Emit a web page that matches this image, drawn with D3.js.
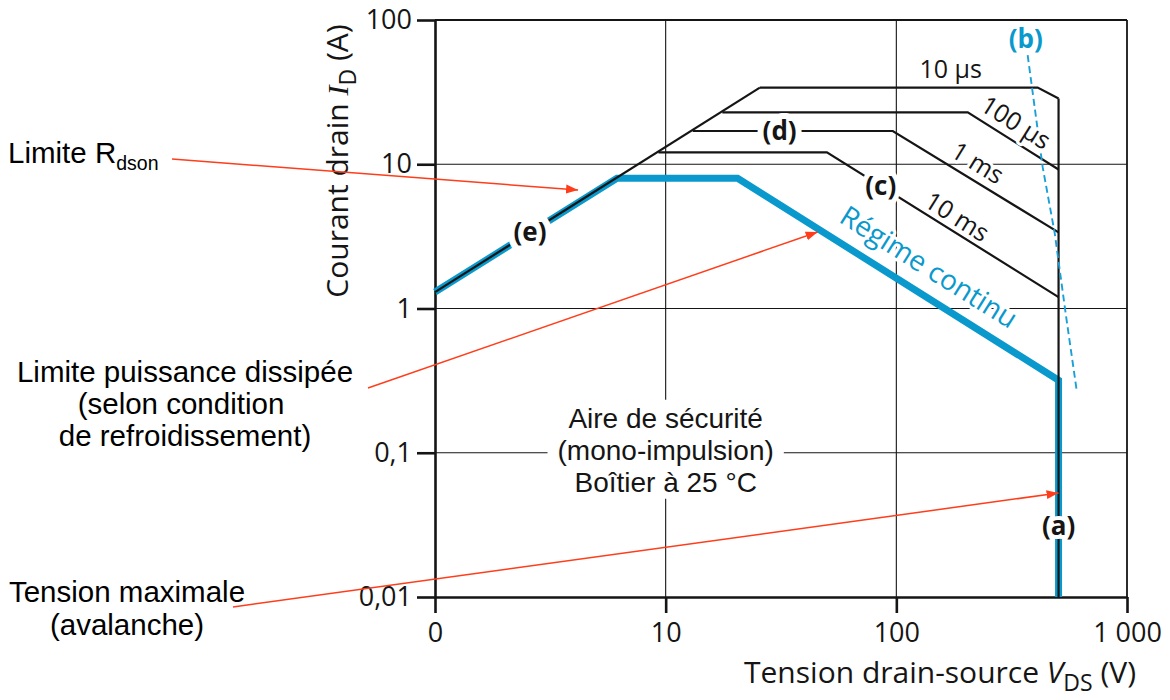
<!DOCTYPE html>
<html><head><meta charset="utf-8">
<script src="https://cdn.jsdelivr.net/npm/d3@7"></script>
<style>
body{margin:0;background:#fff;}
svg{display:block;font-family:"Open Sans",sans-serif;}
</style></head><body>
<svg id="c" width="1170" height="700"></svg>
<script>
// ---------- data (V in volts, I in amperes) ----------
const xTicks=[1,10,100,1000];
const xTickLabels=["0","10","100","1 000"];
const yTicks=[0.01,0.1,1,10,100];
const yTickLabels=["0,01","0,1","1","10","100"];

const rdsonV=[1,25.6],            rdsonI=[1.3,34];          // (e) limite Rdson
const dcV=[1,6.15,20.5,505,505],  dcI=[1.3,8,8,0.318,0.01]; // régime continu
const us10V=[25.6,410,505],       us10I=[34,34,28.6];
const us100V=[17.6,204,505],      us100I=[22.9,22.9,9.2];
const ms1V=[13.1,96.5,505],       ms1I=[17,17,3.37];
const ms10V=[9.3,50,505],         ms10I=[12.1,12.1,1.2];
const avalV=[505,505],            avalI=[28.6,0.01];        // (a) avalanche
const bV=[371,431,486,542,605],   bI=[57,9.55,3.33,0.927,0.271]; // (b)

const arrowTipV=[4.17,45.6,505], arrowTipI=[6.63,3.39,0.0526];

// ---------- setup ----------
const svg=d3.select("#c");
const x=d3.scaleLog().domain([1,1000]).range([435,1127]);
const y=d3.scaleLog().domain([0.01,100]).range([597,20]);
const BLUE="#0a99cc", DASH="#1aa0d6", RED="#ff3d1a", INK="#151515";
const line=d3.line().x(d=>x(d[0])).y(d=>y(d[1]));

// ---------- grid ----------
const grid=svg.append("g");
grid.selectAll("line.gv").data(xTicks.slice(1)).join("line").attr("class","gv")
  .attr("x1",d=>x(d)).attr("x2",d=>x(d)).attr("y1",y(0.01)).attr("y2",y(100))
  .attr("stroke",INK).attr("stroke-width",d=>d===1000?1.8:1.1);
grid.selectAll("line.gh").data(yTicks.slice(1)).join("line").attr("class","gh")
  .attr("y1",d=>y(d)).attr("y2",d=>y(d)).attr("x1",x(1)).attr("x2",x(1000))
  .attr("stroke",INK).attr("stroke-width",d=>d===100?2.2:1.1);

// ---------- axes ----------
const ax=svg.append("g").attr("transform",`translate(0,${y(0.01)})`)
  .call(d3.axisBottom(x).tickValues(xTicks).tickFormat((d,i)=>xTickLabels[i]).tickSize(16).tickPadding(10).tickSizeOuter(0));
const ay=svg.append("g").attr("transform",`translate(${x(1)},0)`)
  .call(d3.axisLeft(y).tickValues(yTicks).tickFormat((d,i)=>yTickLabels[i]).tickSize(18).tickPadding(5).tickSizeOuter(0));
[ax,ay].forEach(g=>{
  g.attr("font-family",null).attr("font-size",null);
  g.select(".domain").attr("stroke",INK).attr("stroke-width",2.6);
  g.selectAll(".tick line").attr("stroke",INK).attr("stroke-width",2.6);
  g.selectAll(".tick text").attr("fill",INK).attr("font-size",27);
});

// ---------- curves ----------
const curves=svg.append("g").attr("fill","none");
curves.append("path").attr("d",line(d3.zip(dcV,dcI))).attr("stroke",BLUE).attr("stroke-width",7);
[[rdsonV,rdsonI],[us10V,us10I],[us100V,us100I],[ms1V,ms1I],[ms10V,ms10I],[avalV,avalI]]
  .forEach(([v,i])=>curves.append("path").attr("d",line(d3.zip(v,i))).attr("stroke",INK).attr("stroke-width",2.2));
curves.append("path").attr("d",line(d3.zip(bV,bI))).attr("stroke",DASH).attr("stroke-width",1.9).attr("stroke-dasharray","7,4");

// ---------- helpers ----------
function seg(vs,is,v){
  for(let k=0;k<vs.length-1;k++){ if(vs[k]<vs[k+1] && v>=vs[k] && v<=vs[k+1]) return k; }
  return 0;
}
function at(vs,is,v){
  const k=seg(vs,is,v);
  const t=(Math.log(v)-Math.log(vs[k]))/(Math.log(vs[k+1])-Math.log(vs[k]));
  return Math.exp(Math.log(is[k])+t*(Math.log(is[k+1])-Math.log(is[k])));
}
function halo(sel,w){ return sel.attr("stroke","#fff").attr("stroke-width",w).attr("stroke-linejoin","round").attr("paint-order","stroke"); }

const labels=svg.append("g");

// rotated labels along the power-limited segments
const rotLabels=[
  {text:"100 µs", v:301, V:us100V, I:us100I, d:17,   fs:25, color:INK},
  {text:"1 ms",   v:206, V:ms1V,   I:ms1I,   d:17,   fs:25, color:INK},
  {text:"10 ms",  v:170, V:ms10V,  I:ms10I,  d:14.4, fs:25, color:INK},
  {text:"Régime continu", v:120, V:dcV, I:dcI, d:26.6, fs:28, color:BLUE}
];
rotLabels.forEach(o=>{
  const k=seg(o.V,o.I,o.v);
  const ang=Math.atan2(y(o.I[k+1])-y(o.I[k]), x(o.V[k+1])-x(o.V[k]))*180/Math.PI;
  const px=x(o.v), py=y(at(o.V,o.I,o.v));
  halo(labels.append("text"),6).attr("transform",`translate(${px},${py}) rotate(${ang})`)
    .attr("x",0).attr("y",-o.d+0.35*o.fs).attr("text-anchor","middle")
    .attr("font-size",o.fs).attr("fill",o.color).text(o.text);
});

// 10 µs label above its flat segment
labels.append("text").attr("x",x(172)).attr("y",y(34)-10).attr("text-anchor","middle")
  .attr("font-size",25).attr("fill",INK).text("10 µs");

// letter labels
const letterLabels=[
  {t:"(d)", px:x(31.2), py:y(17), halo:12, color:INK},
  {t:"(c)", px:x(85.6), py:y(at(ms10V,ms10I,85.6)), halo:10, color:INK},
  {t:"(e)", px:x(2.58), py:y(at(rdsonV,rdsonI,2.58)), halo:13, color:INK},
  {t:"(a)", px:x(505),  py:y(0.031), halo:8, color:INK}
];
letterLabels.forEach(o=>{
  halo(labels.append("text"),o.halo).attr("x",o.px).attr("y",o.py+9).attr("text-anchor","middle")
    .attr("font-size",26).attr("font-weight","bold").attr("fill",o.color).text(o.t);
});
labels.append("text").attr("x",x(bV[0])-2).attr("y",y(bI[0])-7).attr("text-anchor","middle")
  .attr("font-size",26).attr("font-weight","bold").attr("fill",BLUE).text("(b)");

// Aire de sécurité block
const aire=svg.append("g");
const aireLines=["Aire de sécurité","(mono-impulsion)","Boîtier à 25 °C"];
const acx=x(10), acy=y(0.1);
const aireText=aire.append("g").attr("font-family","'Liberation Sans',Arial,sans-serif").attr("font-size",28).attr("fill",INK);
aireLines.forEach((t,i)=>aireText.append("text").attr("x",acx).attr("y",acy-25+i*32).attr("text-anchor","middle").text(t));
const bb=aireText.node().getBBox();
aire.insert("rect",":first-child").attr("x",bb.x-10).attr("y",bb.y-3).attr("width",bb.width+20).attr("height",bb.height+4).attr("fill","#fff");

// axis titles
const yt=svg.append("text").attr("transform","translate(348,161) rotate(-90)")
  .attr("text-anchor","middle").attr("font-size",30).attr("fill",INK);
yt.append("tspan").text("Courant drain ");
yt.append("tspan").attr("font-family","Liberation Serif").attr("font-style","italic").text("I");
yt.append("tspan").attr("font-size",23).attr("dy",8).text("D");
yt.append("tspan").attr("dy",-8).text(" (A)");

const xt=svg.append("text").attr("x",940).attr("y",683)
  .attr("text-anchor","middle").attr("font-size",30).attr("fill",INK);
xt.append("tspan").text("Tension drain-source ");
xt.append("tspan").attr("font-style","italic").text("V");
xt.append("tspan").attr("font-size",23).attr("dy",8).text("DS");
xt.append("tspan").attr("dy",-8).text(" (V)");

// left annotations
const ann=svg.append("g").attr("font-family","'Liberation Sans',Arial,sans-serif").attr("font-size",29.5).attr("fill","#000");
const a1=ann.append("text").attr("x",8).attr("y",163);
a1.append("tspan").text("Limite R");
a1.append("tspan").attr("font-size",19.5).attr("dy",7).text("dson");
[["Limite puissance dissipée",185,382],["(selon condition",181,414],["de refroidissement)",185,446],
 ["Tension maximale",127,602],["(avalanche)",127,635]]
 .forEach(([t,cx,by])=>ann.append("text").attr("x",cx).attr("y",by).attr("text-anchor","middle").text(t));

// red arrows
const defs=svg.append("defs");
defs.append("marker").attr("id","ah").attr("viewBox","0 -5 12 10").attr("refX",12).attr("refY",0)
  .attr("markerWidth",12).attr("markerHeight",10).attr("markerUnits","userSpaceOnUse").attr("orient","auto")
  .append("path").attr("d","M0,-4.5L12,0L0,4.5Z").attr("fill",RED);
const arrowStarts=[[172,159],[368,388],[233,607]];
arrowStarts.forEach((s,i)=>svg.append("line").attr("x1",s[0]).attr("y1",s[1])
  .attr("x2",x(arrowTipV[i])).attr("y2",y(arrowTipI[i]))
  .attr("stroke",RED).attr("stroke-width",1.5).attr("marker-end","url(#ah)"));
</script>
</body></html>
